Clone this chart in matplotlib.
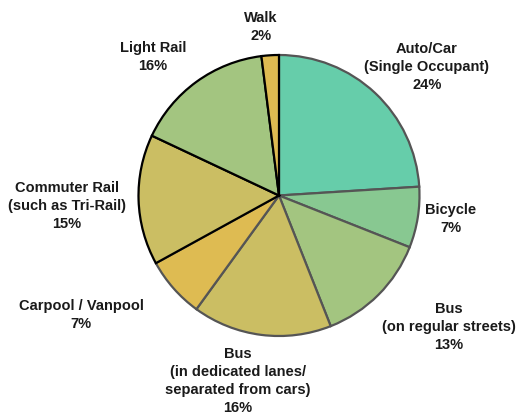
import matplotlib
matplotlib.use("Agg")
import matplotlib.pyplot as plt

# 통행수단 분담(시계방향, 12시 시작)
labels = ["Auto/Car\n(Single Occupant)", "Bicycle", "Bus\n(on regular streets)",
          "Bus\n(in dedicated lanes/\nseparated from cars)", "Carpool / Vanpool",
          "Commuter Rail\n(such as Tri-Rail)", "Light Rail", "Walk"]
shares = [24, 7, 13, 16, 7, 15, 16, 2]
colors = ["#66CDAA", "#88C891", "#A3C580", "#CBBE63", "#DEBB52",
          "#CBBE63", "#A3C580", "#DEBB52"]
edges = ["#555555"] * 5 + ["black"] * 3
# 라벨 중심(픽셀, 좌상단 기준)
label_px = [(427, 67), (451, 219), (449, 327), (238, 381), (81, 315),
            (67, 206), (153, 57), (261, 27)]

W, H = 529, 418
CX, CY, R = 279, 195.5, 140.5

fig = plt.figure(figsize=(W / 100, H / 100), dpi=100)
ax = fig.add_axes([(CX - R) / W, 1 - (CY + R) / H, 2 * R / W, 2 * R / H])
wedges, _ = ax.pie(shares, colors=colors, startangle=90, counterclock=False,
                   radius=1, wedgeprops=dict(linewidth=1.6))
for w, ec in zip(wedges, edges):
    w.set_edgecolor(ec)
    w.set_zorder(3 if ec == "black" else 2)   # 검은 테두리 조각을 위로
ax.set_xlim(-1, 1)
ax.set_ylim(-1, 1)
ax.set_aspect("equal")

for lab, s, (x, y) in zip(labels, shares, label_px):
    fig.text(x / W, 1 - y / H, f"{lab}\n{s}%", ha="center", va="center",
             fontsize=10.5, fontweight="bold", family="Liberation Sans",
             linespacing=1.38, color="#1a1a1a")

fig.savefig("out.png", dpi=100)
